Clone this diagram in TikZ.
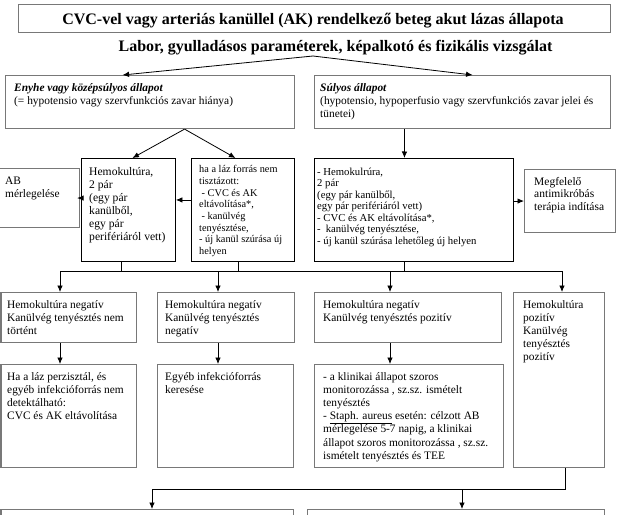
\documentclass[tikz,border=0pt]{standalone}
\usepackage{fontspec}
\setmainfont{Liberation Serif}
\usetikzlibrary{arrows.meta}
\definecolor{boxgray}{RGB}{120,120,120}
\newcommand{\mytb}[4]{\parbox[t]{#1pt}{\raggedright\fontsize{#2}{#3}\selectfont #4}}
\tikzset{
  gbox/.style={draw=boxgray, line width=1.1pt, inner sep=0pt, anchor=north west},
  kbox/.style={draw=black, line width=0.9pt, inner sep=0pt, anchor=north west},
  txt/.style={anchor=base west, inner sep=0pt},
  arr/.style={-{Latex[length=6.5pt,width=5.5pt]}, line width=0.8pt},
  ln/.style={line width=0.8pt},
}
\begin{document}
\begin{tikzpicture}[x=1pt,y=-1pt]
\path[use as bounding box, clip] (0,0) rectangle (637,514);
\fill[white] (0,0) rectangle (637,514);
% boxes
\node[gbox, minimum width=592pt, minimum height=28pt] (title) at (18,4) {};
\node[gbox, minimum width=289pt, minimum height=53pt] (enyhe) at (5,75) {};
\node[gbox, minimum width=296pt, minimum height=53pt] (sulyos) at (314,75) {};
\node[gbox, minimum width=81pt, minimum height=59pt] (ab) at (-2,168) {};
\node[kbox, minimum width=94pt, minimum height=103pt] (hemo) at (81,158) {};
\node[kbox, minimum width=103pt, minimum height=103pt] (laz) at (191,158) {};
\node[kbox, minimum width=199pt, minimum height=103pt] (big) at (314,158) {};
\node[gbox, minimum width=91pt, minimum height=63pt] (megf) at (524,169) {};
\node[gbox, minimum width=135.5pt, minimum height=50pt] (r2a) at (0.5,292) {};
\node[gbox, minimum width=137pt, minimum height=50pt] (r2b) at (157,292) {};
\node[gbox, minimum width=187pt, minimum height=50pt] (r2c) at (314,292) {};
\node[gbox, minimum width=91pt, minimum height=175pt] (r2d) at (513,292) {};
\node[gbox, minimum width=135.5pt, minimum height=103pt] (r3a) at (0.5,364) {};
\node[gbox, minimum width=136pt, minimum height=103pt] (r3b) at (157,364) {};
\node[gbox, minimum width=189pt, minimum height=103pt] (r3c) at (314,364) {};
\node[gbox, minimum width=292.5pt, minimum height=40pt] (bl) at (0.5,509) {};
\node[gbox, minimum width=297pt, minimum height=40pt] (br) at (307,509) {};
% texts
\node[anchor=base, inner sep=0pt, font=\fontsize{16}{19}\selectfont\bfseries] (t-title) at (313,24) {CVC-vel vagy arteriás kanüllel (AK) rendelkező beteg akut lázas állapota};
\node[anchor=base, inner sep=0pt, font=\fontsize{16}{19}\selectfont\bfseries] (t-sub) at (335.5,51) {Labor, gyulladásos paraméterek, képalkotó és fizikális vizsgálat};
\node[txt] (t-enyhe) at (14,91) {\mytb{275}{11.4}{13}{\textbf{\textit{Enyhe vagy középsúlyos állapot}}\\(= hypotensio vagy szervfunkciós zavar hiánya)}};
\node[txt] (t-sulyos) at (320,91) {\mytb{288}{11.4}{13}{\textbf{\textit{Súlyos állapot}}\\(hypotensio, hypoperfusio vagy szervfunkciós zavar jelei és\\tünetei)}};
\node[txt] (t-ab) at (5,184) {\mytb{72}{11.4}{13}{AB\\mérlegelése}};
\node[txt] (t-hemo) at (89,175) {\mytb{85}{11.6}{13}{Hemokultúra,\\2 pár\\(egy pár\\kanülből,\\egy pár\\perifériáról vett)}};
\node[txt] (t-laz) at (199,172.7) {\mytb{94}{10.3}{11.7}{ha a láz forrás nem\\tisztázott:\\\hspace*{2.5pt}- CVC és AK\\eltávolítása*,\\\hspace*{2.5pt}- kanülvég\\tenyésztése,\\- új kanül szúrása új\\helyen}};
\node[txt] (t-big) at (317,175) {\mytb{195}{10.7}{11.5}{- Hemokulrúra,\\2 pár\\(egy pár kanülből,\\egy pár perifériáról vett)\\- CVC és AK eltávolítása*,\\-\hspace*{5pt}kanülvég tenyésztése,\\- új kanül szúrása lehetőleg új helyen}};
\node[txt] (t-megf) at (534,185) {\mytb{80}{11.5}{12.5}{Megfelelő\\antimikróbás\\terápia indítása}};
\node[txt] (t-r2a) at (7,308) {\mytb{128}{11.4}{13}{Hemokultúra negatív\\Kanülvég tenyésztés nem\\történt}};
\node[txt] (t-r2b) at (165,308) {\mytb{128}{11.4}{13}{Hemokultúra negatív\\Kanülvég tenyésztés\\negatív}};
\node[txt] (t-r2c) at (323,308) {\mytb{176}{11.4}{13}{Hemokultúra negatív\\Kanülvég tenyésztés pozitív}};
\node[txt] (t-r2d) at (523,308) {\mytb{80}{11.4}{13}{Hemokultúra\\pozitív\\Kanülvég\\tenyésztés\\pozitív}};
\node[txt] (t-r3a) at (7,380) {\mytb{128}{11.4}{13.2}{Ha a láz perzisztál, és\\egyéb infekcióforrás nem\\detektálható:\\CVC és AK eltávolítása}};
\node[txt] (t-r3b) at (165,380) {\mytb{128}{11.4}{13.2}{Egyéb infekcióforrás\\keresése}};
\node[txt] (t-r3c) at (323,380) {\mytb{178}{11.4}{13.2}{- a klinikai állapot szoros\\monitorozássa , sz.sz. ismételt\\tenyésztés\\- \underline{Staph. aureus} esetén: célzott AB\\mérlegelése 5-7 napig, a klinikai\\állapot szoros monitorozássa , sz.sz.\\ismételt tenyésztés és TEE}};
% connectors
\coordinate (apex) at (313,56);
\draw[arr] (apex) -- ([xshift=-27.5pt]enyhe.north);
\draw[arr] (apex) -- ([xshift=10pt]sulyos.north);
\coordinate (e1) at ([xshift=34.5pt]enyhe.south);
\draw[arr] (e1) -- ([xshift=4pt]hemo.north);
\draw[arr] (e1) -- ([xshift=-7.5pt]laz.north);
\draw[arr] ([xshift=-58pt]sulyos.south) -- ([xshift=-9.5pt]big.north);
\draw[arr] (hemo.west |- ab.east) -- ([xshift=-3pt]ab.east);
\draw[arr] ([yshift=10pt]laz.west) -- ([yshift=10pt]hemo.east);
\draw[arr] (big.east |- megf.west) -- (megf.west);
% bus
\coordinate (busL) at (60,271);
\coordinate (busR) at (562,271);
\coordinate (b2) at (218,271);
\coordinate (b3) at (390,271);
\draw[ln] ([xshift=-6.7pt]hemo.south) -- ([xshift=-6.7pt]hemo.south |- busL);
\draw[ln] ([xshift=-4.2pt]laz.south) -- ([xshift=-4.2pt]laz.south |- busL);
\draw[ln] ([xshift=-9.5pt]big.south) -- ([xshift=-9.5pt]big.south |- busL);
\draw[ln] (busL) -- (busR);
\draw[arr] (busL) -- (busL |- r2a.north);
\draw[arr] (b2) -- (b2 |- r2b.north);
\draw[arr] (b3) -- (b3 |- r2c.north);
\draw[arr] (busR) -- (busR |- r2d.north);
\draw[arr] (busL |- r2a.south) -- (busL |- r3a.north);
\draw[arr] (b2 |- r2b.south) -- (b2 |- r3b.north);
\draw[arr] (b3 |- r2c.south) -- (b3 |- r3c.north);
% bottom
\coordinate (c1) at (565,489);
\coordinate (c2) at (152,489);
\coordinate (c3) at (462,489);
\draw[ln] (c1 |- r2d.south) -- (c1) -- (c2);
\draw[arr] (c2) -- (c2 |- bl.north);
\draw[arr] (c3) -- (c3 |- br.north);
\end{tikzpicture}
\end{document}
